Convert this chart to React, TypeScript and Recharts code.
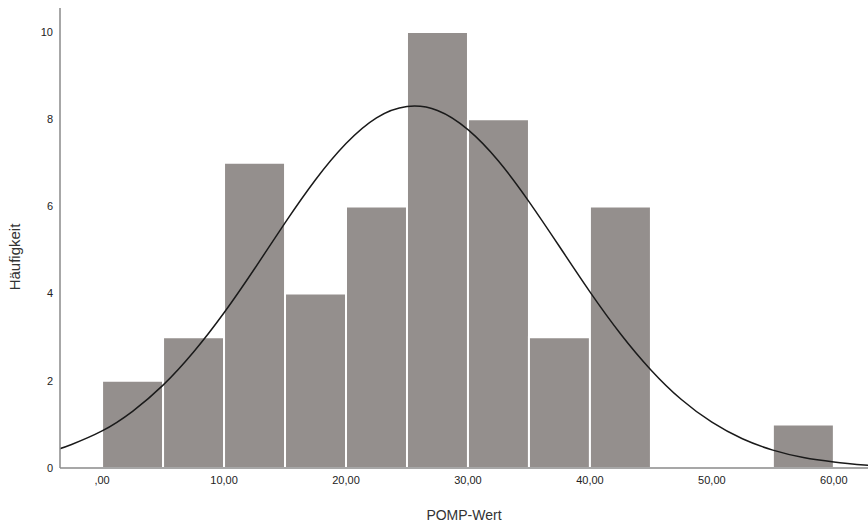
import { ComposedChart, Bar, Line, XAxis, YAxis } from "recharts"

// histogram bins (midpoints of 5-wide classes) and counts
const binMids = [2.5, 7.5, 12.5, 17.5, 22.5, 27.5, 32.5, 37.5, 42.5, 47.5, 52.5, 57.5]
const binCounts = [2, 3, 7, 4, 6, 10, 8, 3, 6, 0, 0, 1]

// normal curve
const curveX = [-3.5, -2.5, 0, 2.5, 5, 7.5, 10, 12.5, 15, 17.5, 20, 22.5, 25, 27.5, 30, 32.5, 35, 37.5, 40, 42.5, 45, 47.5, 50, 52.5, 55, 57.5, 60, 62.8]
const curveY = [0.44, 0.54, 0.85, 1.3, 1.9, 2.66, 3.56, 4.57, 5.62, 6.61, 7.44, 8.03, 8.29, 8.2, 7.76, 7.04, 6.11, 5.08, 4.04, 3.08, 2.25, 1.57, 1.05, 0.67, 0.41, 0.24, 0.14, 0.06]

const xTicks = [0, 10, 20, 30, 40, 50, 60]
const yTicks = [0, 2, 4, 6, 8, 10]
const xDomain = [-3.45, 62.8]

const barData = binMids.map((x, i) => ({ x, count: binCounts[i] }))
const curveData = curveX.map((x, i) => ({ x, y: curveY[i] }))

function formatX(v: number) {
  if (v === 0) return ",00"
  return v.toFixed(2).replace(".", ",")
}

const font = "'Liberation Sans', Arial, sans-serif"
const tick = { fill: "#222", fontSize: 11, fontFamily: font }

export default function App() {
  return (
    <div style={{ position: "absolute", left: 0, top: 0, background: "#fff" }}>
      <ComposedChart
        width={868}
        height={524}
        data={barData}
        barCategoryGap={0}
        barGap={0}
        margin={{ top: 8, right: 0, left: 0, bottom: 0 }}
      >
        <XAxis
          dataKey="x"
          type="number"
          domain={xDomain}
          allowDataOverflow
          ticks={xTicks}
          tickFormatter={formatX}
          tick={tick}
          tickLine={false}
          axisLine={{ stroke: "#8a8a8a", strokeWidth: 1.5 }}
          height={56}
          label={{
            value: "POMP-Wert",
            position: "insideBottom",
            offset: 4,
            style: { fill: "#333", fontSize: 14, fontFamily: font },
          }}
        />
        {/* separate hidden axis for the curve so the bar width comes from the bins only */}
        <XAxis
          xAxisId="curve"
          dataKey="x"
          type="number"
          domain={xDomain}
          allowDataOverflow
          hide
          height={56}
        />
        <YAxis
          type="number"
          domain={[0, 10.55]}
          allowDataOverflow
          ticks={yTicks}
          tick={tick}
          tickLine={false}
          tickSize={5}
          axisLine={{ stroke: "#8a8a8a", strokeWidth: 1.5 }}
          width={60}
          label={{
            value: "Häufigkeit",
            angle: -90,
            position: "insideLeft",
            offset: 15,
            dy: 19,
            style: { fill: "#333", fontSize: 15, fontFamily: font, textAnchor: "middle" },
          }}
        />
        <Bar
          dataKey="count"
          fill="#948f8d"
          stroke="#ffffff"
          strokeWidth={2}
          isAnimationActive={false}
        />
        <Line
          xAxisId="curve"
          data={curveData}
          dataKey="y"
          type="natural"
          stroke="#1a1a1a"
          strokeWidth={1.5}
          dot={false}
          activeDot={false}
          isAnimationActive={false}
        />
      </ComposedChart>
    </div>
  )
}
